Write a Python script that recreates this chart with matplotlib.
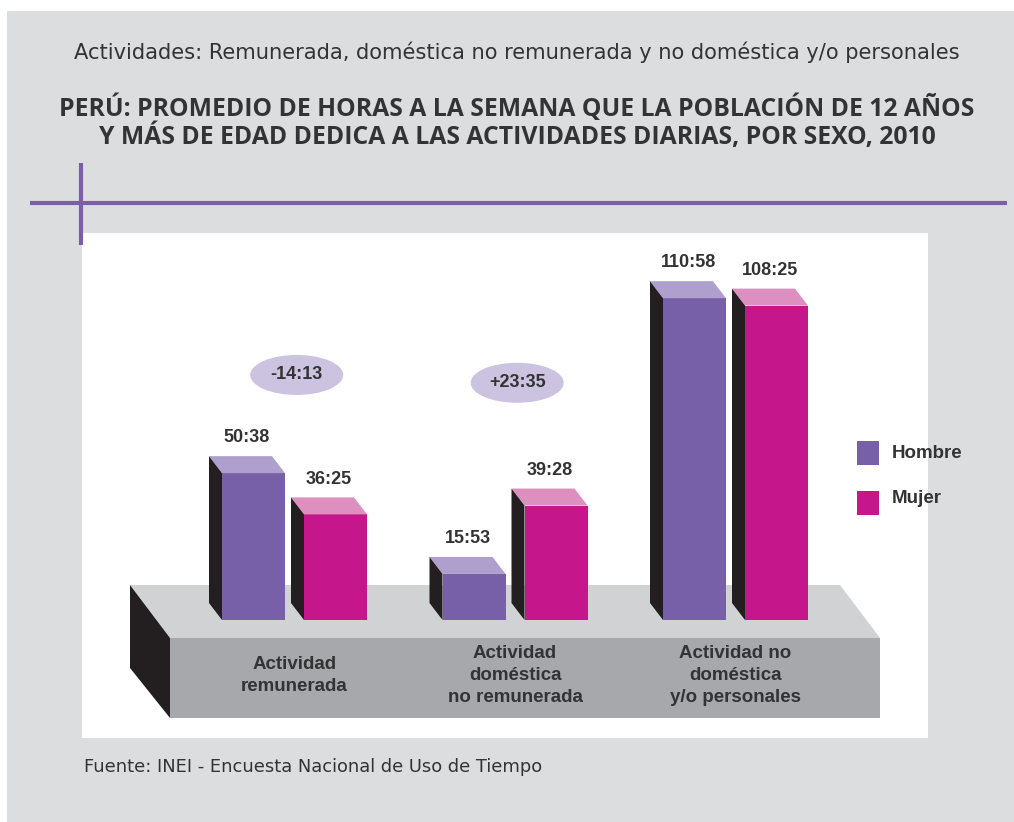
import matplotlib
matplotlib.use("Agg")
import matplotlib.pyplot as plt
from matplotlib.patches import Rectangle, Polygon, Ellipse

# Data (horas:minutos por semana)
categories = ["Actividad\nremunerada",
              "Actividad\ndoméstica\nno remunerada",
              "Actividad no\ndoméstica\ny/o personales"]
hombre = ["50:38", "15:53", "110:58"]
mujer = ["36:25", "39:28", "108:25"]
show_diff = [True, True, False]
series_names = ["Hombre", "Mujer"]

subtitle = "Actividades: Remunerada, doméstica no remunerada y no doméstica y/o personales"
title = ("PERÚ: PROMEDIO DE HORAS A LA SEMANA QUE LA POBLACIÓN DE 12 AÑOS\n"
         "Y MÁS DE EDAD DEDICA A LAS ACTIVIDADES DIARIAS, POR SEXO, 2010")
source = "Fuente: INEI - Encuesta Nacional de Uso de Tiempo"

# Colours
BG = "#dcdddf"
LINE = "#7b5ea7"
PURPLE, PURPLE_TOP = "#7760a8", "#ae9fcd"
MAGENTA, MAGENTA_TOP = "#c6168c", "#dd90c0"
SIDE = "#231f20"
BASE_TOP, BASE_FRONT = "#d1d2d4", "#a7a8ab"
ELLIPSE = "#cbc3e0"
TEXT = "#333335"
BOLD = "Liberation Sans"
TITLE_FONT = "Open Sans"
LIGHT = "DejaVu Sans"


def to_hours(s):
    h, m = s.split(":")
    return int(h) + int(m) / 60


def fmt_diff(hours):
    sign = "+" if hours >= 0 else "-"
    minutes = round(abs(hours) * 60)
    return f"{sign}{minutes // 60}:{minutes % 60:02d}"


W, H = 1014, 822
fig = plt.figure(figsize=(W / 100, H / 100), dpi=100)
fig.patch.set_facecolor("white")

# Background layer in pixel coordinates
bg = fig.add_axes([0, 0, 1, 1])
bg.set_xlim(0, W)
bg.set_ylim(H, 0)
bg.axis("off")
bg.add_patch(Rectangle((7, 11), W - 7, H - 11, color=BG, lw=0))
bg.add_patch(Rectangle((82, 233), 846, 505, color="white", lw=0))
bg.plot([30, 1007], [203, 203], color=LINE, lw=3, solid_capstyle="butt")
bg.plot([81, 81], [163, 245], color=LINE, lw=3, solid_capstyle="butt")

bg.text(517, 52, subtitle, ha="center", va="center", fontsize=15.1,
        family=LIGHT, color=TEXT)
bg.text(517, 122, title, ha="center", va="center", fontsize=17.8,
        family=TITLE_FONT, weight="bold", color=TEXT, linespacing=1.08)
bg.text(84, 767, source, ha="left", va="center", fontsize=12.9,
        family=LIGHT, color=TEXT)

# Platform
bg.add_patch(Polygon([(130, 585), (840, 585), (880, 638), (170, 638)],
                     color=BASE_TOP, lw=0))
bg.add_patch(Rectangle((170, 638), 710, 80, color=BASE_FRONT, lw=0))
bg.add_patch(Polygon([(130, 585), (170, 638), (170, 718), (130, 668)],
                     color=SIDE, lw=0))

# Legend
for i, (name, col) in enumerate(zip(series_names, [PURPLE, MAGENTA])):
    bg.add_patch(Rectangle((857, 441 + 50 * i), 22, 24, color=col, lw=0))
    bg.text(892, 458 + 45 * i, name, ha="left", va="baseline", fontsize=13.5,
            family=BOLD, weight="bold", color=TEXT)

# Chart layer: x = category index, y = hours
PX_GROUP = 220.5      # px between categories
PX_HOUR = 2.9         # px per hour
X0_PX, Y0_PX = 294.5, 620
left_px, right_px, top_px, bot_px = 82, 928, 233, 738
ax = fig.add_axes([left_px / W, 1 - bot_px / H,
                   (right_px - left_px) / W, (bot_px - top_px) / H])
ax.set_xlim((left_px - X0_PX) / PX_GROUP, (right_px - X0_PX) / PX_GROUP)
ax.set_ylim(-(bot_px - Y0_PX) / PX_HOUR, (Y0_PX - top_px) / PX_HOUR)
ax.patch.set_alpha(0)
ax.axis("off")

bw = 63 / PX_GROUP
off = 41 / PX_GROUP
DX, DY = -13 / PX_GROUP, 17 / PX_HOUR

for i in range(len(categories)):
    vals = [to_hours(hombre[i]), to_hours(mujer[i])]
    labels = [hombre[i], mujer[i]]
    for j, (v, front, top) in enumerate(zip(vals, [PURPLE, MAGENTA],
                                             [PURPLE_TOP, MAGENTA_TOP])):
        xc = i + (off if j else -off)
        x0, x1 = xc - bw / 2, xc + bw / 2
        ax.bar(xc, v, width=bw, color=front, lw=0, zorder=3)
        ax.add_patch(Polygon([(x0, v), (x1, v), (x1 + DX, v + DY), (x0 + DX, v + DY)],
                             color=top, lw=0, zorder=3))
        ax.add_patch(Polygon([(x0, 0), (x0, v), (x0 + DX, v + DY), (x0 + DX, DY)],
                             color=SIDE, lw=0, zorder=3))
        ax.text(xc + DX / 2, v + DY + 6.3, labels[j], ha="center", va="center",
                fontsize=13, family=BOLD, weight="bold", color=TEXT, zorder=4)
    ax.text(i, -19.2, categories[i], ha="center", va="center", fontsize=13.5,
            family=BOLD, weight="bold", color=TEXT, linespacing=1.4, zorder=4)
    if show_diff[i]:
        ey = 84.5 if i == 0 else 81.8
        ax.add_patch(Ellipse((i + 0.01, ey), 93 / PX_GROUP, 40 / PX_HOUR,
                             color=ELLIPSE, lw=0, zorder=2))
        ax.text(i + 0.01, ey, fmt_diff(vals[1] - vals[0]), ha="center",
                va="center", fontsize=13, family=BOLD, weight="bold",
                color=TEXT, zorder=4)

fig.savefig("out.png", dpi=100, facecolor=fig.get_facecolor())
